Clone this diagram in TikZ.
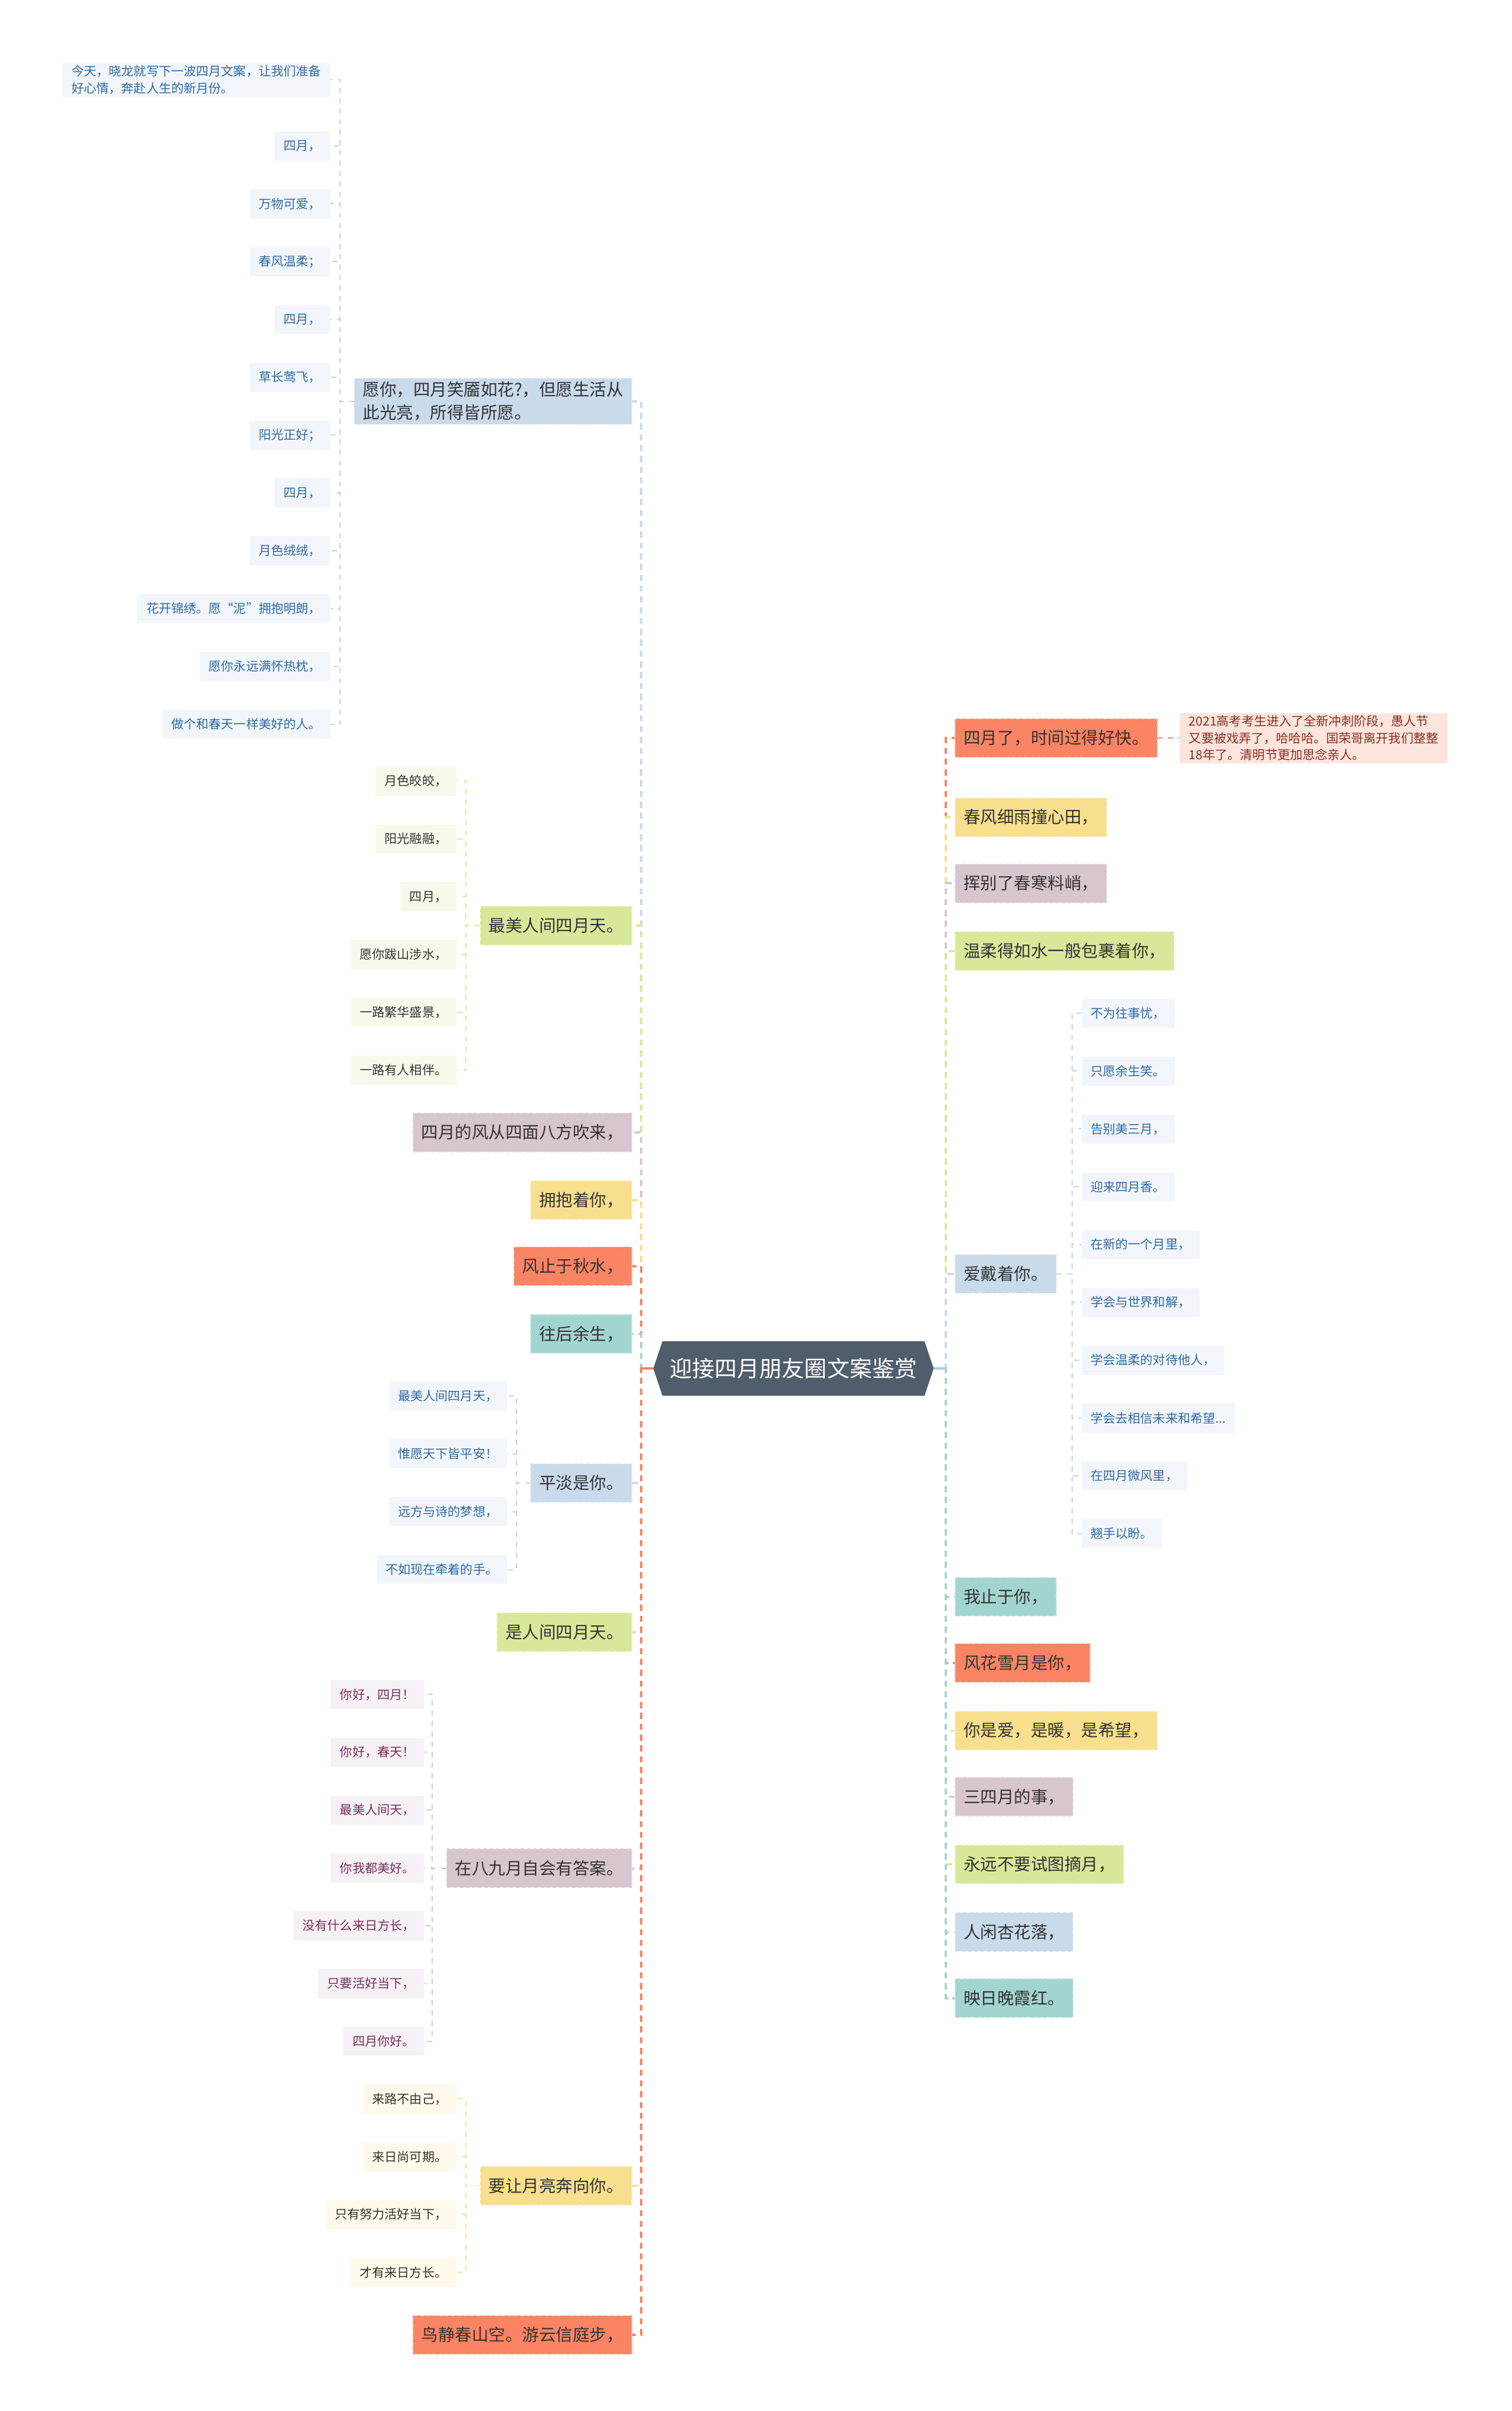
\documentclass[tikz,border=0pt]{standalone}
\usepackage{fontspec}
\setmainfont{Noto Sans CJK SC}
\usetikzlibrary{calc,backgrounds}

\tikzset{
  rootbox/.style={text=white, minimum height=0.91cm, inner xsep=0.12cm, inner ysep=0cm,
    font=\fontsize{10.8}{13}\selectfont},
  mainbox/.style={fill=#1, draw=#1!70!white, dash pattern=on 2pt off 1pt, line width=0.4pt,
    text=textdark, minimum height=0.65cm, inner xsep=0.14cm, inner ysep=0.06cm,
    font=\fontsize{8.1}{11}\selectfont},
  leafbox/.style 2 args={fill=#1, text=#2, minimum height=0.49cm, inner xsep=0.155cm,
    inner ysep=0.04cm, font=\fontsize{6}{8.1}\selectfont},
  conn/.style={draw=#1, line width=1.1pt, dash pattern=on 3pt off 2.2pt},
  subconn/.style={draw=#1, line width=0.55pt, dash pattern=on 2.5pt off 2.5pt}
}
\newcommand\hopetext{学会去相信未来和希望...}

\begin{document}
\begin{tikzpicture}[x=0.026cm, y=-0.026cm]
    \definecolor{rootcol}{RGB}{79,93,108}
    \definecolor{coralcol}{RGB}{250,132,99}
    \definecolor{yellowcol}{RGB}{248,223,142}
    \definecolor{mauvecol}{RGB}{215,197,208}
    \definecolor{greencol}{RGB}{216,232,155}
    \definecolor{tealcol}{RGB}{163,213,208}
    \definecolor{bluecol}{RGB}{201,218,235}
    \definecolor{subblue}{RGB}{196,210,224}
    \definecolor{subgrey}{RGB}{204,204,204}
    \definecolor{leafblue}{RGB}{242,246,250}
    \definecolor{leafgreen}{RGB}{247,249,234}
    \definecolor{leafmauve}{RGB}{246,241,244}
    \definecolor{leafyellow}{RGB}{254,249,234}
    \definecolor{leafpink}{RGB}{253,229,222}
    \definecolor{textdark}{RGB}{51,51,51}
    \definecolor{textblue}{RGB}{46,106,165}
    \definecolor{textmauve}{RGB}{122,46,94}
    \definecolor{textred}{RGB}{139,46,31}

    \useasboundingbox (0,0) rectangle (983,1568);

    % 中心
    \node[rootbox] (root) at (516,890) {迎接四月朋友圈文案鉴赏};
    \begin{scope}[on background layer]
        \fill[white] (0,0) rectangle (983,1568);
        \fill[rootcol] (root.north west) -- (root.north east) -- ($(root.east)+(6,0)$)
            -- (root.south east) -- (root.south west) -- ($(root.west)+(-6,0)$) -- cycle;
    \end{scope}
    \coordinate (rootL) at ($(root.west)+(-6,0)$);
    \coordinate (rootR) at ($(root.east)+(6,0)$);

    % 左侧主题
    \node[mainbox=bluecol, anchor=east, align=left] (L1) at (411,261)
        {愿你，四月笑靥如花?，但愿生活从\\此光亮，所得皆所愿。};
    \draw[conn=bluecol] (rootL) -- ++(-8,0) |- (L1.east);
    \foreach \n/\c/\y/\t in {L2/greencol/602/最美人间四月天。,
        L3/mauvecol/736.5/四月的风从四面八方吹来，,
        L4/yellowcol/780.5/拥抱着你，,
        L5/coralcol/823.5/风止于秋水，,
        L6/tealcol/867.5/往后余生，,
        L7/bluecol/964.5/平淡是你。,
        L8/greencol/1061.5/是人间四月天。,
        L9/mauvecol/1215/在八九月自会有答案。,
        L10/yellowcol/1421.5/要让月亮奔向你。,
        L11/coralcol/1518.5/鸟静春山空。游云信庭步，}{
        \node[mainbox=\c, anchor=east] (\n) at (411,\y) {\t};
        \draw[conn=\c] (rootL) -- ++(-8,0) |- (\n.east);
    }
    \draw[coralcol, line width=1.1pt] (rootL) -- ++(-8,0);

    % 右侧主题
    \foreach \n/\c/\y/\t in {R1/coralcol/480/四月了，时间过得好快。,
        R2/yellowcol/531.5/春风细雨撞心田，,
        R3/mauvecol/574.5/挥别了春寒料峭，,
        R4/greencol/618.5/温柔得如水一般包裹着你，,
        R5/bluecol/828.5/爱戴着你。,
        R6/tealcol/1038.5/我止于你，,
        R7/coralcol/1081.5/风花雪月是你，,
        R8/yellowcol/1125.5/你是爱，是暖，是希望，,
        R9/mauvecol/1168.5/三四月的事，,
        R10/greencol/1212.5/永远不要试图摘月，,
        R11/bluecol/1256.5/人闲杏花落，,
        R12/tealcol/1299.5/映日晚霞红。}{
        \node[mainbox=\c, anchor=west] (\n) at (621,\y) {\t};
        \draw[conn=\c] (rootR) -- ++(8,0) |- (\n.west);
    }
    \draw[tealcol, line width=1.1pt] (rootR) -- ++(8,0);

    % 愿你……
    \node[leafbox={leafblue}{textblue}, anchor=east, align=left] (A0) at (215,52)
        {今天，晓龙就写下一波四月文案，让我们准备\\好心情，奔赴人生的新月份。};
    \draw[subconn=subblue] (L1.west) -- ++(-9,0) |- (A0.east);
    \foreach \t [count=\i] in {{四月，},{万物可爱，},{春风温柔；},{四月，},{草长莺飞，},
        {阳光正好；},{四月，},{月色绒绒，},{花开锦绣。愿“泥”拥抱明朗，},
        {愿你永远满怀热枕，},{做个和春天一样美好的人。}}{
        \node[leafbox={leafblue}{textblue}, anchor=east] (A\i) at (215,{95+(\i-1)*37.6}) {\t};
        \draw[subconn=subblue] (L1.west) -- ++(-9,0) |- (A\i.east);
    }

    % 最美人间四月天
    \foreach \t [count=\i] in {{月色皎皎，},{阳光融融，},{四月，},{愿你跋山涉水，},
        {一路繁华盛景，},{一路有人相伴。}}{
        \node[leafbox={leafgreen}{textdark}, anchor=east] (B\i) at (297,{508+(\i-1)*37.6}) {\t};
        \draw[subconn=greencol] (L2.west) -- ++(-9,0) |- (B\i.east);
    }

    % 平淡是你
    \foreach \t [count=\i] in {{最美人间四月天，},{惟愿天下皆平安！},{远方与诗的梦想，},
        {不如现在牵着的手。}}{
        \node[leafbox={leafblue}{textblue}, anchor=east] (C\i) at (330,{908+(\i-1)*37.6}) {\t};
        \draw[subconn=subblue] (L7.west) -- ++(-9,0) |- (C\i.east);
    }

    % 在八九月自会有答案
    \foreach \t [count=\i] in {{你好，四月！},{你好，春天！},{最美人间天，},{你我都美好。},
        {没有什么来日方长，},{只要活好当下，},{四月你好。}}{
        \node[leafbox={leafmauve}{textmauve}, anchor=east] (D\i) at (276,{1102+(\i-1)*37.6}) {\t};
        \draw[subconn=subgrey] (L9.west) -- ++(-9,0) |- (D\i.east);
    }

    % 要让月亮奔向你
    \foreach \t [count=\i] in {{来路不由己，},{来日尚可期。},{只有努力活好当下，},
        {才有来日方长。}}{
        \node[leafbox={leafyellow}{textdark}, anchor=east] (E\i) at (297,{1365+(\i-1)*37.6}) {\t};
        \draw[subconn=yellowcol] (L10.west) -- ++(-9,0) |- (E\i.east);
    }

    % 四月了
    \node[leafbox={leafpink}{textred}, anchor=west, align=left] (F1) at (767,480)
        {2021高考考生进入了全新冲刺阶段，愚人节\\又要被戏弄了，哈哈哈。国荣哥离开我们整整\\18年了。清明节更加思念亲人。};
    \draw[subconn=coralcol] (R1.east) -- (F1.west);

    % 爱戴着你
    \foreach \t [count=\i] in {{不为往事忧，},{只愿余生笑。},{告别美三月，},{迎来四月香。},
        {在新的一个月里，},{学会与世界和解，},{学会温柔的对待他人，},{\hopetext},
        {在四月微风里，},{翘手以盼。}}{
        \node[leafbox={leafblue}{textblue}, anchor=west] (G\i) at (703,{659+(\i-1)*37.6}) {\t};
        \draw[subconn=subblue] (R5.east) -- ++(10,0) |- (G\i.west);
    }
\end{tikzpicture}
\end{document}
